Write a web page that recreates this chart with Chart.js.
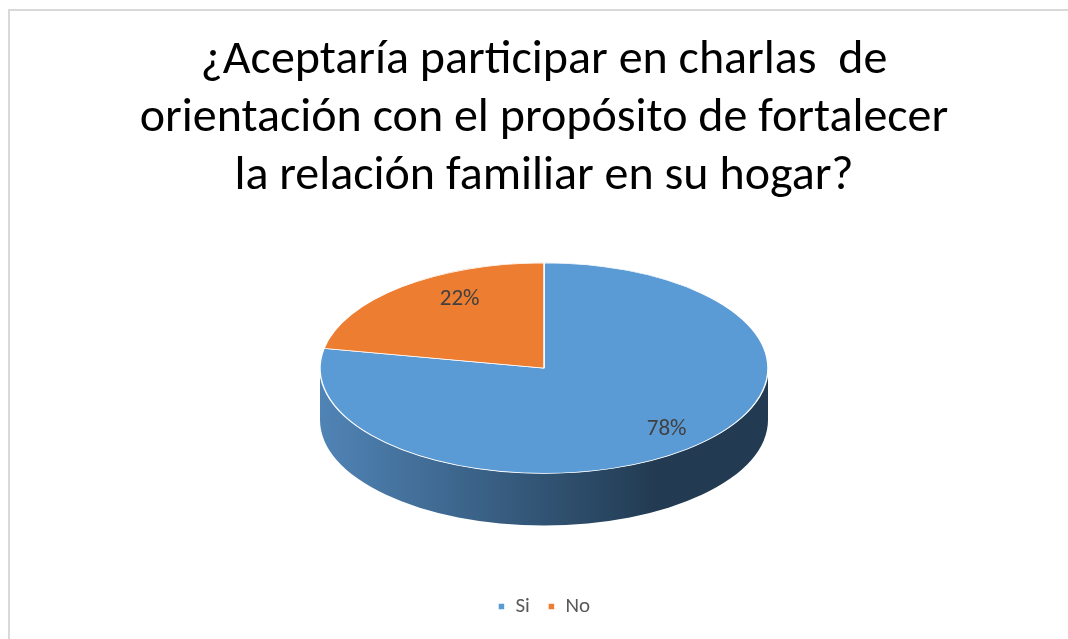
<!DOCTYPE html>
<html>
<head>
<meta charset="utf-8">
<title>Charlas de orientación</title>
<script src="https://cdn.jsdelivr.net/npm/chart.js@4.4.1/dist/chart.umd.min.js"></script>
<style>
  html, body { margin: 0; padding: 0; background: #fff; overflow: hidden; }
  #frame { position: absolute; left: 8px; top: 9px; width: 1100px; height: 700px;
           border: 2px solid #d9d9d9; box-sizing: border-box; pointer-events: none; }
  canvas { position: absolute; left: 0; top: 0; }
</style>
</head>
<body>
<canvas id="pieChart" width="1068" height="639"></canvas>
<div id="frame"></div>
<script>
/* ================= DATA ================= */
const categories = ["Si", "No"];
const percentages = [78, 22];
const titleLines = [
  "¿Aceptaría participar en charlas  de",
  "orientación con el propósito de fortalecer",
  "la relación familiar en su hogar?"
];

/* ================= STYLE ================= */
const sliceColors = ["#5b9bd5", "#ed7d31"];
const sideLight = ["#5084b6", "#c4682a"];
const sideDark = ["#223b52", "#6d3a17"];
const FONT = "Calibri, Carlito, Lato, 'Open Sans', sans-serif";

/* ================= 3D PIE PLUGIN ================= */
// squashes the flat pie into an ellipse and draws the front wall under it
const pie3d = {
  id: "pie3d",
  beforeDatasetsDraw(chart, args, opts) {
    const arcs = chart.getDatasetMeta(0).data;
    if (!arcs.length) return;
    const { x: cx, y: cy, outerRadius: r } = arcs[0];
    const ry = r * opts.tilt;
    const faceY = cy - opts.depth / 2;
    const ctx = chart.ctx;

    arcs.forEach((arc, i) => {
      const s = Math.max(arc.startAngle, 0);
      const e = Math.min(arc.endAngle, Math.PI);
      if (e <= s) return;
      const grad = ctx.createLinearGradient(cx - r, 0, cx + r, 0);
      grad.addColorStop(0, sideLight[i]);
      grad.addColorStop(0.75, sideDark[i]);
      grad.addColorStop(1, sideDark[i]);
      ctx.beginPath();
      ctx.ellipse(cx, faceY, r, ry, 0, s, e, false);
      ctx.ellipse(cx, faceY + opts.depth, r, ry, 0, e, s, true);
      ctx.closePath();
      ctx.fillStyle = grad;
      ctx.fill();
    });

    ctx.save();
    ctx.translate(cx, faceY);
    ctx.scale(1, opts.tilt);
    ctx.translate(-cx, -cy);
  },
  afterDatasetsDraw(chart, args, opts) {
    const ctx = chart.ctx;
    ctx.restore();
    const arcs = chart.getDatasetMeta(0).data;
    if (!arcs.length) return;
    const { x: cx, y: cy, outerRadius: r } = arcs[0];
    const faceY = cy - opts.depth / 2 - opts.labelLift;
    const total = percentages.reduce((a, b) => a + b, 0);
    ctx.save();
    ctx.font = "23px " + FONT;
    ctx.fillStyle = "#404040";
    ctx.textAlign = "center";
    ctx.textBaseline = "middle";
    arcs.forEach((arc, i) => {
      const mid = (arc.startAngle + arc.endAngle) / 2;
      // nearer (lower) parts of the disc look wider
      const persp = 1 + opts.perspective * Math.sin(mid);
      const x = cx + Math.cos(mid) * r * opts.labelPosX * persp;
      const y = faceY + Math.sin(mid) * r * opts.tilt * opts.labelPos;
      ctx.fillText(Math.round(percentages[i] / total * 100) + "%", x, y);
    });
    ctx.restore();
  }
};

/* ================= CHART ================= */
const ctx = document.getElementById("pieChart").getContext("2d");
new Chart(ctx, {
  type: "pie",
  data: {
    labels: categories,
    datasets: [{
      data: percentages,
      backgroundColor: sliceColors,
      borderColor: "#ffffff",
      borderWidth: 1.5,
      radius: 224
    }]
  },
  options: {
    responsive: false,
    animation: false,
    layout: { padding: { left: 20, right: 0, top: 0, bottom: 12 } },
    plugins: {
      pie3d: { tilt: 0.47, depth: 52, labelPos: 0.8, labelPosX: 0.725,
               perspective: 0.24, labelLift: 4 },
      tooltip: { enabled: false },
      title: {
        display: true,
        text: titleLines,
        color: "#000000",
        font: { family: FONT, size: 48, weight: "normal", lineHeight: 1.21 },
        padding: { top: 32, bottom: 4 }
      },
      legend: {
        position: "bottom",
        labels: {
          usePointStyle: true,
          pointStyle: "rect",
          boxWidth: 7,
          boxHeight: 7,
          padding: 18,
          color: "#595959",
          font: { family: FONT, size: 21 }
        }
      }
    }
  },
  plugins: [pie3d]
});
</script>
</body>
</html>
